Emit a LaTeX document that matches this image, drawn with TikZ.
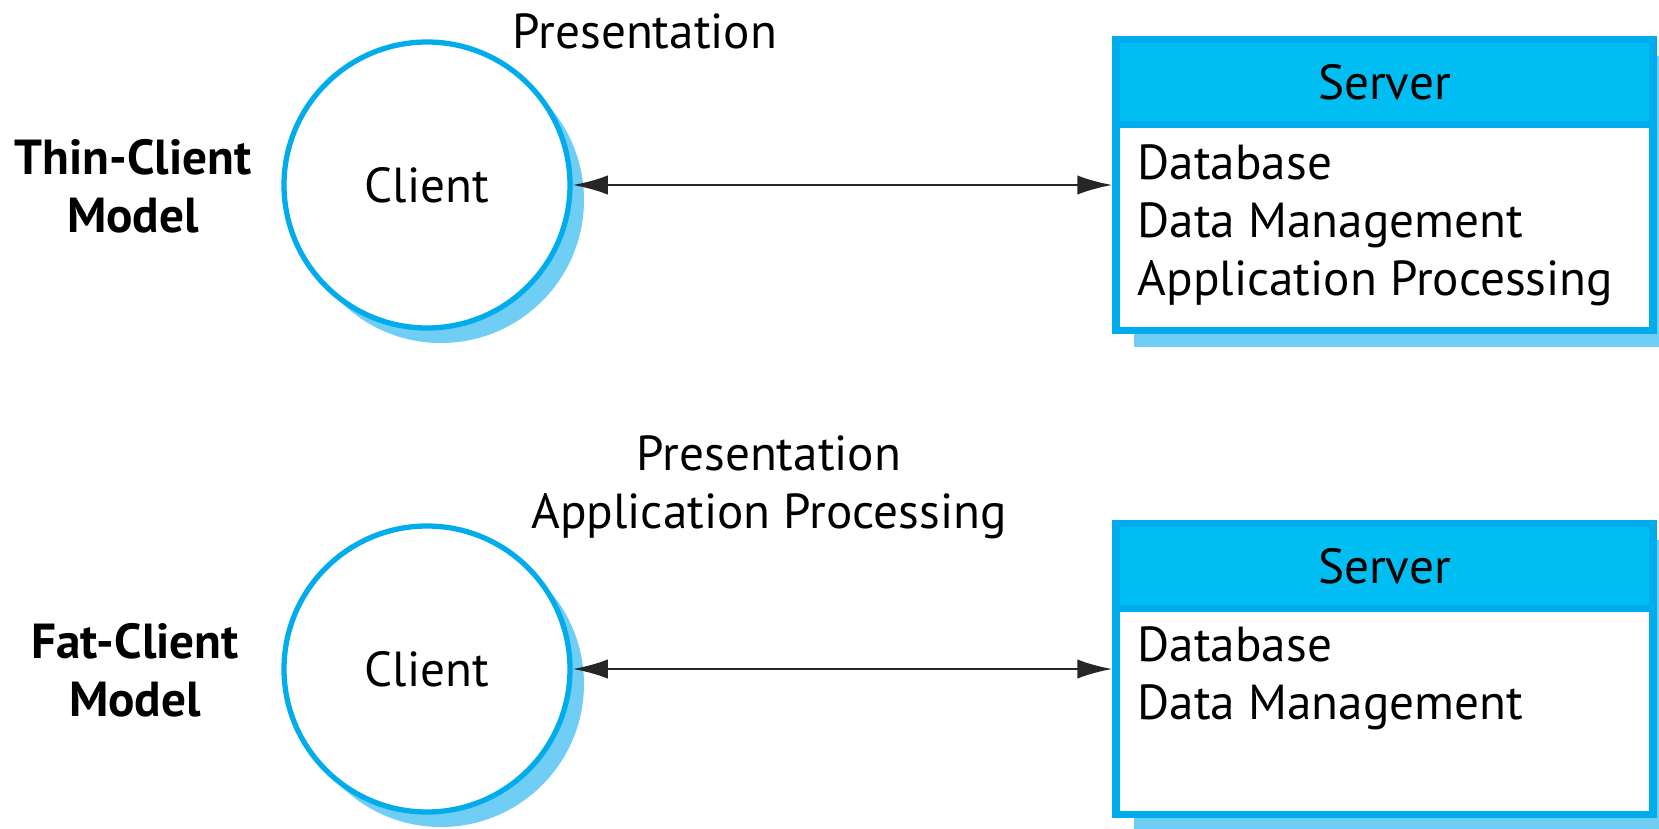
\documentclass[tikz,border=0pt]{standalone}
\usepackage{fontspec}
\setmainfont{PT Sans}
\usetikzlibrary{arrows.meta,shadows}
\definecolor{srvline}{RGB}{0,172,236}
\definecolor{srvhead}{RGB}{0,190,242}
\definecolor{srvshade}{RGB}{112,206,245}
\begin{document}
\begin{tikzpicture}[x=1cm,y=1cm,
  lbl/.style={font=\fontsize{14}{16.5}\selectfont,inner sep=0pt,align=center},
  listtxt/.style={lbl,align=left,anchor=west},
  clientnode/.style={circle,lbl,minimum size=2.86cm,draw=srvline,line width=1.5pt,fill=white,
    drop shadow={fill=srvshade,opacity=1,shadow xshift=0.14cm,shadow yshift=-0.15cm}},
  serverbody/.style={rectangle,minimum width=5.37cm,minimum height=2.91cm,draw=srvline,line width=2pt,fill=white,
    drop shadow={fill=srvshade,opacity=1,shadow xshift=0.18cm,shadow yshift=-0.16cm}},
  serverhead/.style={rectangle,lbl,minimum width=5.37cm,minimum height=0.85cm,draw=srvline,line width=2pt,
    fill=srvhead,anchor=north},
  link/.style={{Latex[length=10pt,width=5.5pt]}-{Latex[length=10pt,width=5.5pt]},line width=0.8pt,black!85}]
\useasboundingbox (0,0) rectangle (16.59,-8.28);
% thin-client model
\node[lbl,font=\fontsize{14}{16.5}\selectfont\bfseries] (thinlabel) at (1.33,-1.86) {Thin-Client\\Model};
\node[clientnode] (thinclient) at (4.27,-1.85) {Client};
\node[lbl] (thinpres) at (6.45,-0.31) {Presentation};
\node[serverbody] (thinserver) at (13.845,-1.85) {};
\node[serverhead] (thinhead) at (thinserver.north) {Server};
\node[listtxt] (thinlist) at (11.37,-2.25) {Database\\Data Management\\Application Processing};
\draw[link] (thinclient.east) -- (thinserver.west);
% fat-client model
\node[lbl,font=\fontsize{14}{16.5}\selectfont\bfseries] (fatlabel) at (1.35,-6.70) {Fat-Client\\Model};
\node[clientnode] (fatclient) at (4.27,-6.69) {Client};
\node[lbl] (fatpres) at (7.69,-4.875) {Presentation\\Application Processing};
\node[serverbody] (fatserver) at (13.845,-6.69) {};
\node[serverhead] (fathead) at (fatserver.north) {Server};
\node[listtxt] (fatlist) at (11.37,-6.78) {Database\\Data Management};
\draw[link] (fatclient.east) -- (fatserver.west);
\end{tikzpicture}
\end{document}
